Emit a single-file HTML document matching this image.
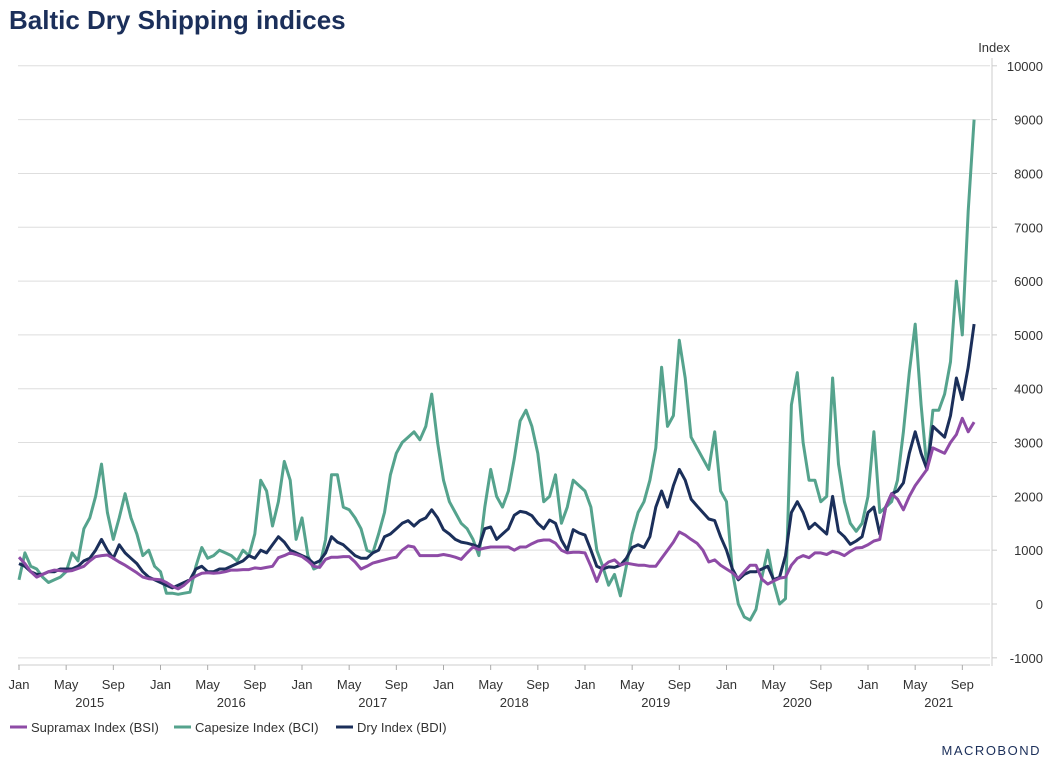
<!DOCTYPE html>
<html><head><meta charset="utf-8"><style>
body{margin:0;background:#fff;font-family:"Liberation Sans",Arial,sans-serif;}
#wrap{position:relative;width:1050px;height:769px;overflow:hidden;}
h1{position:absolute;left:9px;top:5px;margin:0;font-size:26px;font-weight:bold;color:#1b2f5a;}
</style></head><body>
<div id="wrap">
<h1>Baltic Dry Shipping indices</h1>
<svg id="chart" width="1050" height="769" style="position:absolute;left:0;top:0"></svg>
</div>
<script>
const startYear = 2015;
const pointsPerYear = 24;
const yTicks = [-1000,0,1000,2000,3000,4000,5000,6000,7000,8000,9000,10000];
const monthLabels = ["Jan","May","Sep"];
const yearLabels = ["2015","2016","2017","2018","2019","2020","2021"];
const legendNames = ["Supramax Index (BSI)","Capesize Index (BCI)","Dry Index (BDI)"];
const bci = [450,950,700,650,500,400,450,500,600,950,800,1400,1600,2000,2600,1700,1200,1600,2050,1600,1300,900,1000,700,
600,200,200,180,200,220,700,1050,850,900,1000,950,900,800,1000,900,1300,2300,2100,1450,1900,2650,2300,1200,
1600,900,650,700,1200,2400,2400,1800,1750,1600,1400,1000,950,1300,1700,2400,2800,3000,3100,3200,3050,3300,3900,3000,
2300,1900,1700,1500,1400,1200,900,1800,2500,2000,1800,2100,2700,3400,3600,3300,2800,1900,2000,2400,1500,1800,2300,2200,
2100,1800,1000,700,350,550,150,700,1300,1700,1900,2300,2900,4400,3300,3500,4900,4200,3100,2900,2700,2500,3200,2100,
1900,600,0,-240,-300,-100,500,1000,400,0,100,3700,4300,3000,2300,2300,1900,2000,4200,2600,1900,1500,1350,1500,
2000,3200,1700,1800,1900,2300,3200,4300,5200,3700,2500,3600,3600,3900,4500,6000,5000,7300,9000];
const bdi = [750,700,600,550,550,600,600,650,650,650,700,800,850,1000,1200,1000,850,1100,950,850,750,600,500,450,
400,350,300,350,400,450,650,700,600,600,650,650,700,750,800,900,850,1000,950,1100,1250,1150,1000,950,
900,850,750,800,950,1250,1150,1100,1000,900,850,850,950,1000,1250,1300,1400,1500,1550,1450,1550,1600,1750,1600,
1380,1300,1200,1150,1130,1100,1060,1400,1430,1200,1300,1400,1650,1720,1700,1640,1500,1400,1560,1500,1190,1000,1380,1320,
1280,1000,700,650,690,680,720,850,1050,1100,1050,1250,1800,2100,1800,2200,2500,2300,1950,1820,1700,1580,1550,1250,
1000,650,450,550,600,600,650,700,450,500,900,1700,1900,1700,1400,1500,1400,1300,2000,1350,1250,1110,1170,1250,
1700,1800,1300,1800,2050,2100,2250,2800,3200,2800,2500,3300,3200,3100,3500,4200,3800,4400,5200];
const bsi = [870,750,600,500,550,600,630,620,610,620,660,700,800,880,900,910,850,780,720,650,580,500,470,460,
450,400,330,280,350,450,520,570,580,570,580,600,630,630,640,640,670,660,680,700,860,900,950,920,
880,800,700,680,830,870,870,880,880,780,650,700,760,790,820,850,870,1000,1080,1060,900,900,900,900,
920,900,870,830,950,1060,1010,1040,1060,1060,1060,1060,1000,1060,1060,1120,1170,1190,1190,1130,1000,950,960,960,
950,700,420,690,780,820,720,760,740,720,720,700,700,850,1000,1150,1340,1280,1200,1130,1000,780,820,720,
650,580,480,600,720,720,460,370,430,480,500,720,850,900,860,950,950,920,980,950,900,980,1040,1050,
1100,1170,1200,1800,2050,1950,1750,2000,2200,2350,2500,2900,2850,2800,3000,3150,3450,3200,3380];

const NS = "http://www.w3.org/2000/svg";
const svg = document.getElementById('chart');
const X0 = 19, PX_YEAR = 141.5, PLOT_L = 18, PLOT_R = 990;
function xScale(t){ return X0 + (t - startYear) * PX_YEAR; }
function yScale(v){ return 604 - v * 0.05382; }
function mk(tag, attrs){ const e = document.createElementNS(NS, tag); for (const k in attrs) e.setAttribute(k, attrs[k]); svg.appendChild(e); return e; }

yTicks.forEach(v => {
  const y = yScale(v);
  const g = mk('line', {x1:PLOT_L, x2:PLOT_R, y1:y, y2:y, stroke:'#dedede', 'stroke-width':1});
  
  
  const tk = mk('line', {x1:992, x2:997, y1:y, y2:y, stroke:'#ccc'});
  
  
  const t = mk('text', {x:1043, y:y+5, 'text-anchor':'end', 'font-size':13, fill:'#333', 'font-family':'Liberation Sans, sans-serif'});
  t.textContent = v;
  
  
});
const ya = mk('line', {x1:992, x2:992, y1:58, y2:666, stroke:'#ccc'});


const yt = mk('text', {x:1010, y:52, 'text-anchor':'end', 'font-size':13, fill:'#333', 'font-family':'Liberation Sans, sans-serif'});
yt.textContent = 'Index';



const xa = mk('line', {x1:PLOT_L, x2:PLOT_R, y1:665, y2:665, stroke:'#ccc'});


yearLabels.forEach((yl, i) => {
  const yr = startYear + i;
  monthLabels.forEach((m, j) => {
    const x = xScale(yr + j*4/12);
    const tk = mk('line', {x1:x, x2:x, y1:665, y2:670, stroke:'#aaa'});
    
    
    const t = mk('text', {x:x, y:689, 'text-anchor':'middle', 'font-size':13, fill:'#333', 'font-family':'Liberation Sans, sans-serif'});
    t.textContent = m;
    
    
  });
  const t = mk('text', {x:xScale(yr + 0.5), y:707, 'text-anchor':'middle', 'font-size':13, fill:'#333', 'font-family':'Liberation Sans, sans-serif'});
  t.textContent = yl;
  
  
});

function drawSeries(vals, color, name){
  const d = vals.map((v,i) => (i?'L':'M') + xScale(startYear + i/pointsPerYear).toFixed(1) + ',' + yScale(v).toFixed(1)).join(' ');
  const p = mk('path', {d:d, fill:'none', stroke:color, 'stroke-width':3, 'stroke-linejoin':'round'});
  
  
}
drawSeries(bci, '#55a38d', 'capesize-line');
drawSeries(bdi, '#1b2f5a', 'dry-index-line');
drawSeries(bsi, '#8e4ba6', 'supramax-line');

const legColors = ['#8e4ba6','#55a38d','#1b2f5a'];
const legX = [10, 174, 336];
legendNames.forEach((n,i) => {
  const l = mk('line', {x1:legX[i], x2:legX[i]+17, y1:727, y2:727, stroke:legColors[i], 'stroke-width':3});
  
  
  const t = mk('text', {x:legX[i]+21, y:732, 'font-size':13, fill:'#333', 'font-family':'Liberation Sans, sans-serif'});
  t.textContent = n;
  
  
});
const logo = mk('text', {x:1041, y:755, 'text-anchor':'end', 'font-size':13, 'letter-spacing':'1.5', fill:'#1b2f5a', 'font-family':'Liberation Sans, sans-serif'});
logo.textContent = 'MACROBOND';


</script>
</body></html>
